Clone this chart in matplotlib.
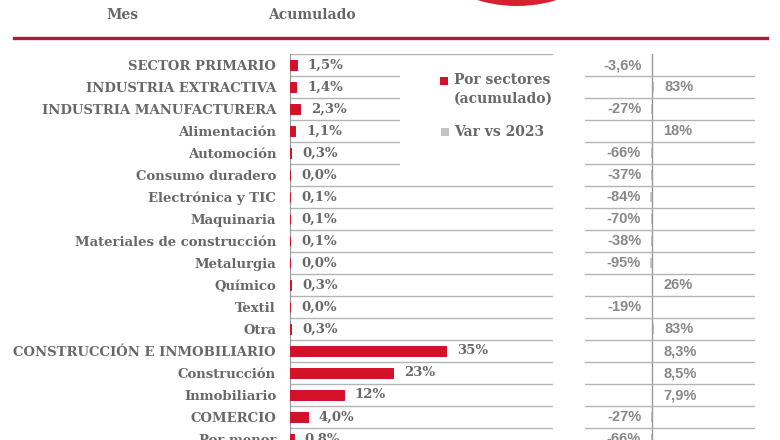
import matplotlib.pyplot as plt
from matplotlib.patches import Ellipse, Rectangle

# data
sectores = ['SECTOR PRIMARIO', 'INDUSTRIA EXTRACTIVA', 'INDUSTRIA MANUFACTURERA',
            'Alimentación', 'Automoción', 'Consumo duradero', 'Electrónica y TIC',
            'Maquinaria', 'Materiales de construcción', 'Metalurgia', 'Químico',
            'Textil', 'Otra', 'CONSTRUCCIÓN E INMOBILIARIO', 'Construcción',
            'Inmobiliario', 'COMERCIO', 'Por menor']
acumulado = [1.5, 1.4, 2.3, 1.1, 0.3, 0.0, 0.1, 0.1, 0.1, 0.0, 0.3, 0.0, 0.3,
             35, 23, 12, 4.0, 0.8]
var_2023 = [-3.6, 83, -27, 18, -66, -37, -84, -70, -38, -95, 26, -19, 83,
            8.3, 8.5, 7.9, -27, -66]
leyenda = ['Por sectores\n(acumulado)', 'Var vs 2023']

RED = '#d41129'
GREY_TXT = '#686868'
LINE = '#b4b4b4'
SERIF = 'DejaVu Serif'
W, H = 780, 440


def fmt(v):
    # spanish style: comma decimal, no decimals from 10 up
    if abs(v) >= 10:
        return f'{v:.0f}%'
    return f'{v:.1f}%'.replace('.', ',')


def px_box(x0, y0, x1, y1):
    # pixel box (top-left origin) -> figure fraction rect
    return [x0 / W, 1 - y1 / H, (x1 - x0) / W, (y1 - y0) / H]


fig = plt.figure(figsize=(7.8, 4.4), dpi=100)

# red circle peeking at the top + header rule
fig.add_artist(Ellipse((517 / W, 1 + 130 / H), 2 * 136 / W, 2 * 136 / H,
                       color='#d8202e', lw=0, transform=fig.transFigure))
fig.add_artist(plt.Line2D([14 / W, 767 / W], [1 - 38 / H, 1 - 38 / H],
                          color='#b3173a', lw=2.4, transform=fig.transFigure))
fig.text(122 / W, 1 - 15 / H, 'Mes', ha='center', va='center', family=SERIF,
         weight='bold', fontsize=10, color=GREY_TXT)
fig.text(312 / W, 1 - 15 / H, 'Acumulado', ha='center', va='center', family=SERIF,
         weight='bold', fontsize=10, color=GREY_TXT)

n = len(sectores)
y = list(range(n))
row_px = 22.0
ybot = -0.5 + (H - 54) / row_px


def row(py):
    # pixel y -> row coordinate
    return (py - 54) / row_px - 0.5


# left panel: accumulated share
ax1 = fig.add_axes(px_box(290, 54, 553, H))
px_per_pct = 4.46
ax1.barh(y, acumulado, height=0.45, color=RED, edgecolor=RED, lw=0.7, zorder=3)
ax1.set_xlim(0, 263 / px_per_pct)
ax1.set_ylim(ybot, -0.5)
for k in range(n):
    ax1.axhline(k - 0.5, color=LINE, lw=1)
for k, v in enumerate(acumulado):
    ax1.annotate(fmt(v), (v, k), xytext=(8, 0), textcoords='offset points',
                 ha='left', va='center', family=SERIF, weight='bold',
                 fontsize=9.5, color=GREY_TXT, annotation_clip=False)
ax1.set_yticks(y)
ax1.set_yticklabels(sectores, family=SERIF, weight='bold', fontsize=9.5,
                    color=GREY_TXT)
ax1.tick_params(axis='y', length=0, pad=10)
ax1.set_xticks([])
for s in ['top', 'right', 'bottom']:
    ax1.spines[s].set_visible(False)
ax1.spines['left'].set_color('#999999')
ax1.patch.set_alpha(0)

# legend on a white box hiding the row lines behind it
ax1.add_patch(Rectangle((110 / px_per_pct, 0.1), 200, 4.9, facecolor='white',
                        edgecolor='none', zorder=3))
sq = 8 / row_px
ax1.add_patch(Rectangle((150 / px_per_pct, row(81) - sq / 2), 8 / px_per_pct, sq,
                        facecolor=RED, edgecolor='none', zorder=4))
ax1.add_patch(Rectangle((151 / px_per_pct, row(132) - sq / 2), 8 / px_per_pct, sq,
                        facecolor='#c4c4c4', edgecolor='none', zorder=4))
ax1.text(164 / px_per_pct, row(73), leyenda[0], ha='left', va='top',
         family=SERIF, weight='bold', fontsize=10, color=GREY_TXT,
         linespacing=1.45, zorder=5)
ax1.text(164 / px_per_pct, row(132), leyenda[1], ha='left', va='center',
         family=SERIF, weight='bold', fontsize=10, color=GREY_TXT, zorder=5)

# right panel: change vs 2023 (bars drawn on a very wide scale)
ax2 = fig.add_axes(px_box(585, 54, 755, H))
scale = 0.02
ax2.barh(y, var_2023, height=0.45, color='#c8c8c8')
ax2.set_xlim(-67 / scale, 103 / scale)
ax2.set_ylim(ybot, -0.5)
ax2.axvline(0, color='#999999', lw=1)
for k in range(1, n):
    ax2.axhline(k - 0.5, color=LINE, lw=1)
for k, v in enumerate(var_2023):
    off, ha = ((-7, 'right') if v < 0 else (8, 'left'))
    ax2.annotate(fmt(v), (v, k), xytext=(off, 0), textcoords='offset points',
                 ha=ha, va='center', family='Liberation Sans', weight='bold',
                 fontsize=10.5, color='#888888', annotation_clip=False)
ax2.axis('off')

fig.savefig('out.png', dpi=100)
